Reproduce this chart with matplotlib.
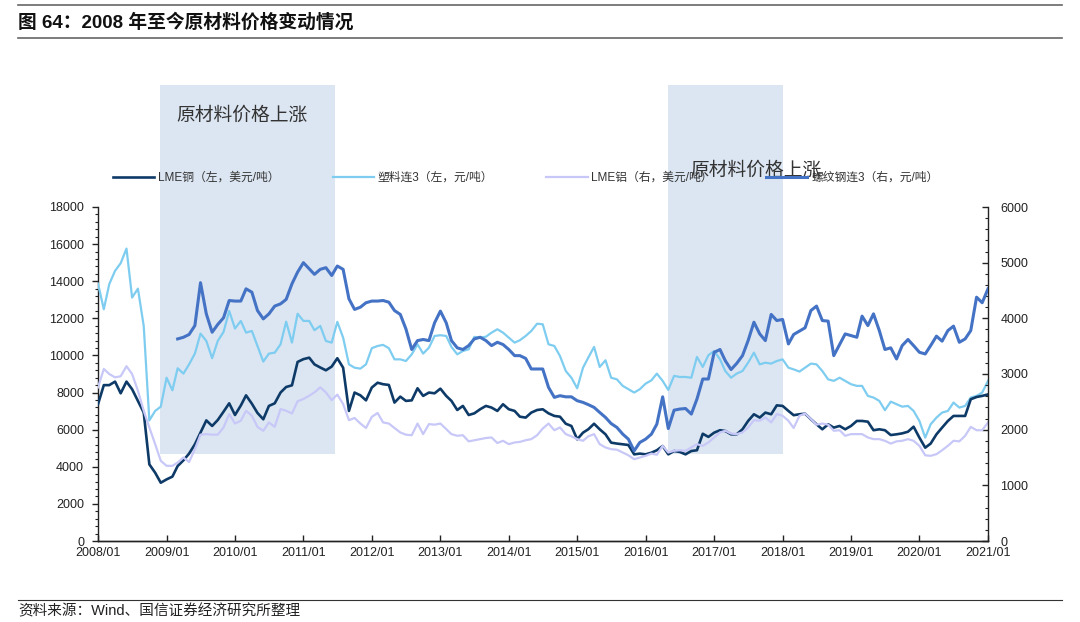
import matplotlib
matplotlib.use('Agg')
import matplotlib.pyplot as plt
import matplotlib.dates as mdates
from matplotlib.patches import Rectangle
from matplotlib.lines import Line2D
from matplotlib.ticker import MultipleLocator
import numpy as np
import pandas as pd

plt.rcParams['font.family'] = ['Liberation Sans', 'Noto Sans CJK SC', 'DejaVu Sans']

# Palette
C_COPPER = '#0E3A68'
C_PLASTIC = '#7ECDF0'
C_ALU = '#C8C8F8'
C_STEEL = '#4472C4'
C_SHADE = '#DCE6F2'
C_TEXT = '#222222'

# Monthly data, 2008/01 - 2021/01
dates = pd.date_range('2008-01-01', '2021-01-01', freq='MS')

copper = [  # LME铜, USD/t (left)
    7370, 8400, 8400, 8590, 7960, 8590, 8180, 7550, 6920, 4130, 3680, 3140,
    3320, 3470, 4040, 4350, 4710, 5210, 5840, 6500, 6200, 6520, 6970, 7420,
    6790, 7300, 7850, 7400, 6900, 6560, 7280, 7420, 8000, 8300, 8390, 9650,
    9800, 9880, 9520, 9350, 9200, 9400, 9850, 9340, 7010, 8000, 7850, 7580,
    8270, 8530, 8450, 8410, 7460, 7780, 7550, 7580, 8230, 7820, 8000, 7960,
    8210, 7820, 7550, 7060, 7280, 6790, 6880, 7100, 7280, 7190, 7010, 7370,
    7100, 7010, 6700, 6650, 6920, 7060, 7100, 6880, 6740, 6700, 6320, 6200,
    5480, 5840, 6020, 6320, 6020, 5750, 5300, 5250, 5210, 5175, 4670, 4710,
    4670, 4760, 4890, 5120, 4670, 4850, 4800, 4670, 4850, 4890, 5780, 5610,
    5840, 5970, 5930, 5750, 5750, 6020, 6470, 6830, 6650, 6920, 6830, 7310,
    7280, 7010, 6780, 6830, 6860, 6560, 6290, 6020, 6290, 6110, 6200, 6020,
    6200, 6470, 6470, 6430, 5970, 6020, 5970, 5710, 5750, 5800, 5890, 6160,
    5570, 5030, 5250, 5750, 6110, 6470, 6740, 6740, 6740, 7640, 7760, 7820,
    7900,
]

plastic = [  # 塑料连3, CNY/t (left)
    13870, 12490, 13840, 14560, 14970, 15760, 13120, 13600, 11590, 6500, 7010, 7240,
    8800, 8120, 9310, 9020, 9520, 10100, 11180, 10780, 9850, 10780, 11270, 12400,
    11450, 11860, 11230, 11320, 10510, 9670, 10100, 10150, 10600, 11820, 10690, 12250,
    11860, 11860, 11360, 11590, 10780, 10690, 11810, 10960, 9520, 9340, 9290, 9520,
    10390, 10510, 10570, 10390, 9790, 9790, 9700, 10060, 10600, 10100, 10420, 11050,
    11090, 11050, 10460, 10060, 10240, 10330, 11000, 10960, 11010, 11230, 11410, 11230,
    10960, 10690, 10820, 11050, 11320, 11710, 11680, 10600, 10510, 9970, 9160, 8800,
    8230, 9340, 9880, 10460, 9380, 9740, 8800, 8710, 8360, 8180, 8000, 8180,
    8480, 8660, 9020, 8630, 8140, 8900, 8840, 8840, 8800, 9920, 9380, 10010,
    10240, 9790, 9160, 8800, 9020, 9160, 9610, 10150, 9520, 9610, 9560, 9700,
    9790, 9340, 9250, 9130, 9340, 9560, 9520, 9160, 8710, 8630, 8800, 8630,
    8450, 8360, 8360, 7820, 7730, 7550, 7050, 7510, 7370, 7240, 7280, 7010,
    6470, 5570, 6290, 6650, 6920, 7010, 7460, 7190, 7280, 7730, 7820, 8000,
    8630,
]

aluminium = [  # LME铝, USD/t (right)
    2760, 3090, 3000, 2940, 2960, 3140, 3000, 2700, 2340, 2040, 1740, 1440,
    1350, 1350, 1410, 1500, 1420, 1650, 1910, 1920, 1910, 1910, 2040, 2280,
    2110, 2160, 2340, 2250, 2050, 1980, 2130, 2050, 2370, 2340, 2290, 2510,
    2550, 2610, 2670, 2760, 2670, 2530, 2630, 2460, 2170, 2210, 2110, 2030,
    2230, 2300, 2130, 2110, 2030, 1950, 1910, 1900, 2110, 1920, 2100, 2090,
    2110, 2010, 1920, 1890, 1900, 1790, 1810, 1830, 1850, 1860, 1760, 1800,
    1740, 1770, 1780, 1810, 1830, 1900, 2020, 2110, 1990, 2040, 1920, 1880,
    1830, 1800, 1880, 1920, 1740, 1680, 1650, 1640, 1590, 1540, 1470, 1500,
    1530, 1570, 1550, 1710, 1590, 1620, 1630, 1620, 1680, 1740, 1710, 1770,
    1860, 1950, 1980, 1930, 1920, 1950, 2040, 2170, 2160, 2220, 2130, 2280,
    2250, 2160, 2030, 2250, 2290, 2190, 2090, 2110, 2090, 1980, 1990, 1890,
    1920, 1920, 1920, 1860, 1830, 1830, 1800, 1750, 1790, 1800, 1830, 1800,
    1710, 1540, 1530, 1560, 1630, 1710, 1800, 1790, 1890, 2050, 1990, 1990,
    2130,
]

rebar = [  # 螺纹钢连3, CNY/t (right), starts 2009/03
    None, None, None, None, None, None, None, None, None, None, None, None,
    None, None, 3630, 3660, 3710, 3870, 4640, 4080, 3750, 3890, 4010, 4320,
    4310, 4310, 4530, 4470, 4140, 3990, 4080, 4220, 4260, 4340, 4620, 4830,
    5000, 4890, 4790, 4880, 4910, 4770, 4940, 4880, 4350, 4160, 4200, 4280,
    4310, 4310, 4320, 4290, 4140, 4070, 3810, 3440, 3600, 3620, 3600, 3920,
    4130, 3920, 3600, 3470, 3440, 3510, 3630, 3660, 3600, 3510, 3570, 3530,
    3440, 3330, 3330, 3280, 3090, 3090, 3090, 2760, 2580, 2610, 2590, 2590,
    2520, 2490, 2450, 2400, 2310, 2220, 2110, 2040, 1920, 1830, 1620, 1770,
    1830, 1920, 2100, 2590, 2020, 2350, 2370, 2380, 2280, 2550, 2910, 2910,
    3390, 3440, 3240, 3080, 3190, 3330, 3600, 3930, 3720, 3600, 4070, 3960,
    3980, 3540, 3710, 3770, 3830, 4140, 4220, 3960, 3950, 3330, 3530, 3720,
    3690, 3660, 4040, 3870, 4080, 3780, 3440, 3470, 3270, 3510, 3620, 3510,
    3390, 3360, 3510, 3680, 3590, 3780, 3860, 3570, 3630, 3780, 4380, 4280,
    4530,
]

labels = ['LME铜（左，美元/吨）', '塑料连3（左，元/吨）',
          'LME铝（右，美元/吨）', '螺纹钢连3（右，元/吨）']

# Periods of rising raw material prices
shade_periods = [('2008-11-27', '2011-06-16'), ('2016-04-28', '2018-01-03')]
shade_text_pos = [('2010-02-05', 22900), ('2017-08-10', 19950)]

fig = plt.figure(figsize=(10.8, 6.22), dpi=100)
fig.patch.set_facecolor('white')

# header / footer
fig.add_artist(Line2D([18 / 1080, 1062 / 1080], [1 - 5 / 622] * 2,
                      color='#666666', lw=1.2))
fig.add_artist(Line2D([18 / 1080, 1062 / 1080], [1 - 38 / 622] * 2,
                      color='#666666', lw=1.2))
fig.text(18 / 1080, 1 - 22 / 622, '图 64：2008 年至今原材料价格变动情况',
         ha='left', va='center', fontsize=13.5, fontweight='bold', color='#111111')
fig.add_artist(Line2D([18 / 1080, 1062 / 1080], [1 - 600 / 622] * 2,
                      color='#333333', lw=0.8))
fig.text(18 / 1080, 1 - 611 / 622, '资料来源：Wind、国信证券经济研究所整理',
         ha='left', va='center', fontsize=10.5, color=C_TEXT)

ax = fig.add_axes([98 / 1080, 1 - 541 / 622, 890 / 1080, 334 / 622])
ax2 = ax.twinx()

# shaded periods (extend above the plot area)
for (s, e), (tx, ty) in zip(shade_periods, shade_text_pos):
    x0 = mdates.date2num(pd.Timestamp(s))
    x1 = mdates.date2num(pd.Timestamp(e))
    ax.add_patch(Rectangle((x0, 4700), x1 - x0, 24600 - 4700,
                           facecolor=C_SHADE, edgecolor='none',
                           clip_on=False, zorder=0))
    ax.text(pd.Timestamp(tx), ty, '原材料价格上涨', ha='center', va='center',
            fontsize=13.5, color='#333333', clip_on=False, zorder=1)

l1, = ax.plot(dates, copper, color=C_COPPER, lw=1.9, zorder=4)
l2, = ax.plot(dates, plastic, color=C_PLASTIC, lw=1.6, zorder=3)
rebar_arr = np.array([np.nan if v is None else v for v in rebar], dtype=float)
l3, = ax2.plot(dates, aluminium, color=C_ALU, lw=1.6, zorder=2)
l4, = ax2.plot(dates, rebar_arr, color=C_STEEL, lw=2.2, zorder=3)

ax.set_xlim(pd.Timestamp('2008-01-01'), pd.Timestamp('2021-01-01'))
ax.set_ylim(0, 18000)
ax2.set_ylim(0, 6000)

ax.yaxis.set_major_locator(MultipleLocator(2000))
ax.yaxis.set_minor_locator(MultipleLocator(400))
ax2.yaxis.set_major_locator(MultipleLocator(1000))
ax2.yaxis.set_minor_locator(MultipleLocator(200))
ax.xaxis.set_major_locator(mdates.YearLocator())
ax.xaxis.set_major_formatter(mdates.DateFormatter('%Y/%m'))

for a in (ax, ax2):
    a.spines['top'].set_visible(False)
    for sp in a.spines.values():
        sp.set_color('#222222')
        sp.set_linewidth(1.0)
ax.spines['right'].set_visible(False)
ax2.spines['left'].set_visible(False)

ax.tick_params(axis='y', which='major', direction='out', length=4, width=1,
               labelsize=9, colors='#222222', pad=6)
ax.tick_params(axis='y', which='minor', direction='out', length=2.5, width=0.8,
               colors='#222222')
ax.tick_params(axis='x', which='major', direction='in', length=4, width=1,
               labelsize=9, colors='#222222', pad=4)
ax2.tick_params(axis='y', which='major', direction='in', length=4, width=1,
                labelsize=9, colors='#222222', pad=9)
ax2.tick_params(axis='y', which='minor', direction='in', length=2.5, width=0.8,
                colors='#222222')

fig.legend([l1, l2, l3, l4], labels,
           loc='center left', ncol=4, mode='expand',
           bbox_to_anchor=(108 / 1080, 1 - 178 / 622, 835 / 1080, 0),
           frameon=False, fontsize=8.5, handlelength=3.5, handletextpad=0.3,
           borderaxespad=0, labelcolor='#333333')

fig.savefig('out.png', dpi=100, facecolor='white')
